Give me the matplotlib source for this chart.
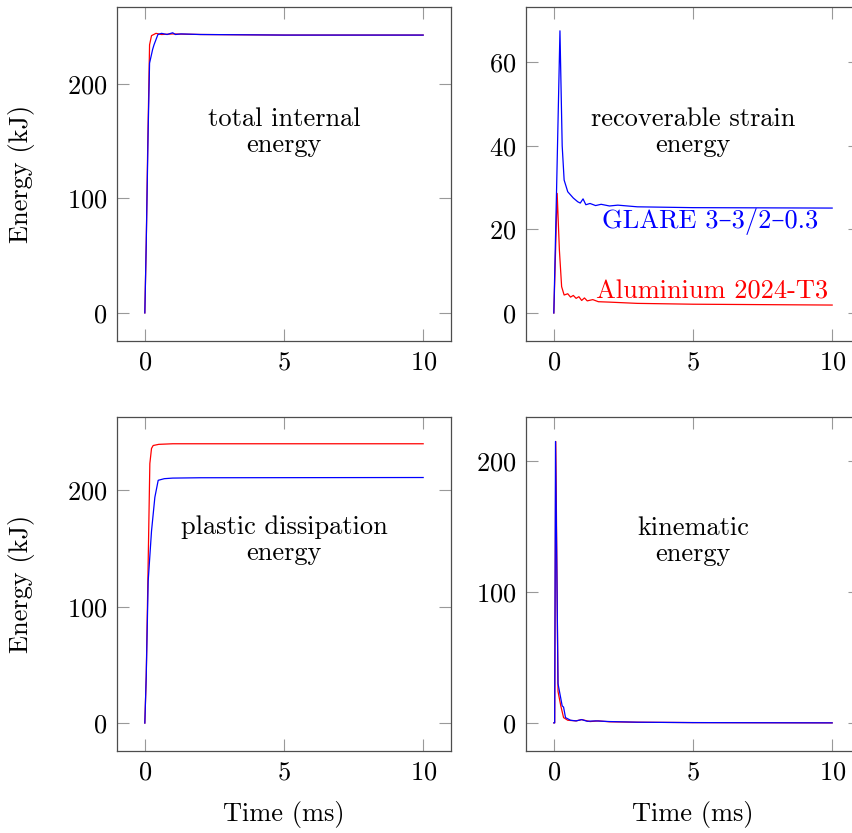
import numpy as np
import matplotlib
matplotlib.use("Agg")
import matplotlib.pyplot as plt

plt.rcParams['font.family'] = ['cmr10', 'DejaVu Serif']
plt.rcParams['mathtext.fontset'] = 'cm'
plt.rcParams['axes.formatter.use_mathtext'] = True
plt.rcParams['font.size'] = 19

# total internal energy
tie_al_t = [0, 0.05, 0.1, 0.17, 0.24, 0.4, 0.6, 1.0, 2, 5, 10]
tie_al_e = [0, 60, 140, 234, 242, 244, 243, 243.5, 243, 242.5, 242.5]
tie_gl_t = [0, 0.05, 0.12, 0.17, 0.28, 0.33, 0.47, 0.6, 0.8, 1.0, 1.1, 1.3, 2, 5, 10]
tie_gl_e = [0, 60, 160, 218, 230, 234, 243, 244, 243, 244.5, 243, 243.5, 243, 242.5, 242.5]

# recoverable strain energy
rse_al_t = [0, 0.12, 0.2, 0.28, 0.37, 0.5, 0.6, 0.7, 0.8, 0.9, 1.0, 1.1, 1.2, 1.4, 1.6, 2, 3, 5, 10]
rse_al_e = [0, 28.6, 15, 6.3, 4.3, 4.6, 3.8, 4.2, 3.5, 3.9, 3.0, 3.6, 2.9, 3.2, 2.7, 2.6, 2.3, 2.1, 1.9]
rse_gl_t = [0, 0.1, 0.22, 0.3, 0.37, 0.5, 0.7, 0.86, 0.95, 1.05, 1.15, 1.3, 1.5, 1.7, 2.0, 2.3, 3, 5, 10]
rse_gl_e = [0, 30, 67.5, 40, 31.8, 29, 27.5, 26.6, 26.3, 27.3, 25.9, 26.2, 25.7, 26.0, 25.6, 25.8, 25.4, 25.2, 25.1]

# plastic dissipation energy
pde_al_t = [0, 0.05, 0.1, 0.18, 0.24, 0.3, 0.5, 1, 10]
pde_al_e = [0, 40, 110, 223, 236, 238.5, 239.5, 240, 240]
pde_gl_t = [0, 0.05, 0.12, 0.24, 0.36, 0.48, 0.7, 1.0, 2, 10]
pde_gl_e = [0, 40, 122, 165, 194, 208.6, 210, 210.5, 210.8, 211]

# kinematic energy
kin_al_t = [0, 0.03, 0.07, 0.15, 0.25, 0.35, 0.5, 0.8, 1.0, 1.3, 1.6, 2, 3, 5, 10]
kin_al_e = [0, 0, 215, 24, 13, 4, 2, 1.5, 2.5, 1, 1.5, 0.8, 0.5, 0.2, 0]
kin_gl_t = [0, 0.03, 0.06, 0.15, 0.3, 0.35, 0.42, 0.6, 0.8, 1.0, 1.2, 1.5, 2, 3, 5, 10]
kin_gl_e = [0, 0, 215, 30, 13, 12, 4, 2, 1.5, 2.5, 1.2, 1.5, 1, 0.5, 0.2, 0]

x_ticks = [0, 5, 10]

panels = [
    # pos, al, gl, ylim, yticks, title, title_y
    ([117, 7], (tie_al_t, tie_al_e), (tie_gl_t, tie_gl_e), (-24.5, 267), [0, 100, 200],
     "total internal\nenergy", 158),
    ([526, 7], (rse_al_t, rse_al_e), (rse_gl_t, rse_gl_e), (-6.7, 73.2), [0, 20, 40, 60],
     "recoverable strain\nenergy", 43.3),
    ([117, 417], (pde_al_t, pde_al_e), (pde_gl_t, pde_gl_e), (-24, 263), [0, 100, 200],
     "plastic dissipation\nenergy", 157),
    ([526, 417], (kin_al_t, kin_al_e), (kin_gl_t, kin_gl_e), (-21.5, 233.7), [0, 100, 200],
     "kinematic\nenergy", 139),
]

W, H = 853, 833
fig = plt.figure(figsize=(W / 100, H / 100), dpi=100)

for i, (pos, al, gl, ylim, yticks, title, ty) in enumerate(panels):
    ax = fig.add_axes([pos[0] / W, 1 - (pos[1] + 334) / H, 334 / W, 334 / H])
    ax.plot(al[0], al[1], color='red', lw=0.9)
    ax.plot(gl[0], gl[1], color='blue', lw=0.9)
    ax.set_xlim(-1, 11)
    ax.set_ylim(*ylim)
    ax.set_xticks(x_ticks)
    ax.set_yticks(yticks)
    ax.tick_params(direction='in', length=8.5, width=0.8, color='0.6', pad=7,
                   top=True, right=True)
    for s in ax.spines.values():
        s.set_color('0.3')
        s.set_linewidth(0.9)
    ax.text(5, ty, title, ha='center', va='center', linespacing=1.1)
    if i % 2 == 0:
        ax.set_ylabel("Energy (kJ)", labelpad=23)
    if i >= 2:
        ax.set_xlabel("Time (ms)", labelpad=12)
    if i == 1:
        ax.text(9.5, 21.8, "GLARE 3–3/2–0.3", color='blue', ha='right', va='center')
        ax.text(9.85, 5.0, "Aluminium 2024-T3", color='red', ha='right', va='center')

fig.savefig("out.png", dpi=100)
